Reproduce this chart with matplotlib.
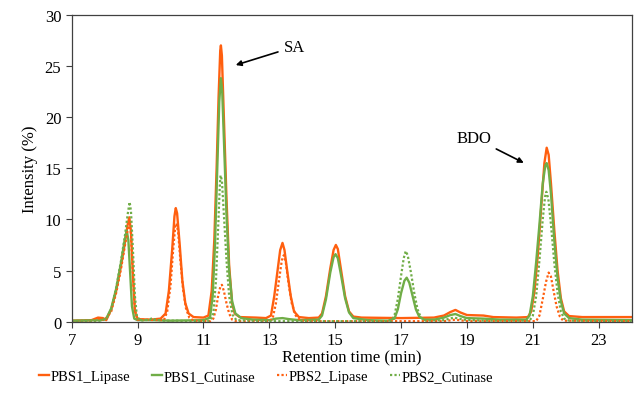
import matplotlib
matplotlib.use("Agg")
import matplotlib.pyplot as plt

plt.rcParams['font.family'] = ['Liberation Serif', 'DejaVu Serif']
plt.rcParams['font.size'] = 12

# PBS1_Lipase (orange, solid)
t_pbs1_lip = [7.0, 7.6, 7.8, 7.95, 8.05, 8.2, 8.35, 8.5, 8.62, 8.7, 8.75, 8.8, 8.86, 8.92, 9.0,
              9.4, 9.7, 9.85, 9.95, 10.05, 10.12, 10.16, 10.2, 10.28, 10.36, 10.45, 10.55, 10.7,
              11.0, 11.15, 11.25, 11.33, 11.4, 11.46, 11.51, 11.53, 11.56, 11.62, 11.7, 11.78, 11.87,
              11.95, 12.1, 12.6, 12.9, 13.05, 13.15, 13.25, 13.33, 13.4, 13.46, 13.55, 13.65, 13.75,
              13.9, 14.2, 14.5, 14.6, 14.72, 14.85, 14.95, 15.02, 15.08, 15.18, 15.3, 15.42, 15.55,
              15.8, 17.0, 18.0, 18.3, 18.5, 18.65, 18.8, 19.0, 19.5, 19.8, 20.5, 20.85, 20.95, 21.05,
              21.15, 21.25, 21.35, 21.42, 21.48, 21.55, 21.65, 21.75, 21.85, 21.95, 22.1, 22.5, 24.0]
i_pbs1_lip = [0.1, 0.15, 0.4, 0.35, 0.15, 1.2, 3.0, 5.5, 7.8, 9.5, 10.2, 8.8, 4.5, 1.0, 0.25,
              0.2, 0.3, 0.8, 3.0, 7.0, 10.3, 11.1, 10.6, 7.5, 4.0, 1.8, 0.8, 0.45,
              0.4, 0.6, 3.0, 8.0, 15.0, 22.0, 26.5, 27.0, 26.0, 20.0, 12.0, 5.5, 1.8,
              0.8, 0.45, 0.4, 0.35, 0.6, 2.5, 5.0, 7.0, 7.7, 7.0, 4.8, 2.5, 1.0,
              0.45, 0.35, 0.4, 0.8, 2.5, 5.2, 7.0, 7.5, 7.1, 5.0, 2.5, 1.0, 0.5,
              0.4, 0.35, 0.4, 0.6, 0.95, 1.15, 0.9, 0.65, 0.6, 0.45, 0.4, 0.45, 1.0, 3.0,
              6.5, 11.0, 15.5, 17.0, 16.3, 13.5, 9.0, 5.0, 2.3, 1.0, 0.55, 0.45, 0.45]

# PBS1_Cutinase (green, solid)
t_pbs1_cut = [7.0, 7.9, 8.05, 8.2, 8.35, 8.5, 8.6, 8.67, 8.72, 8.78, 8.83, 8.9, 9.0, 9.5, 10.0,
              11.0, 11.2, 11.28, 11.35, 11.42, 11.48, 11.53, 11.57, 11.63, 11.7, 11.78, 11.87, 11.97,
              12.15, 12.5, 13.0, 13.2, 13.4, 13.6, 13.9, 14.5, 14.6, 14.72, 14.85, 14.95, 15.01,
              15.08, 15.18, 15.3, 15.42, 15.55, 16.0, 16.6, 16.8, 16.9, 17.0, 17.1, 17.17, 17.25,
              17.35, 17.45, 17.55, 17.7, 18.0, 18.3, 18.5, 18.65, 18.8, 19.0, 19.5, 20.0, 20.8,
              20.9, 21.0, 21.1, 21.2, 21.3, 21.38, 21.42, 21.48, 21.55, 21.65, 21.75, 21.85, 21.95,
              22.1, 22.5, 24.0]
i_pbs1_cut = [0.1, 0.15, 0.3, 1.3, 3.2, 5.8, 7.8, 8.9, 8.0, 4.5, 1.5, 0.3, 0.15, 0.15, 0.1,
              0.15, 0.4, 2.5, 7.5, 15.0, 21.5, 23.8, 22.5, 17.0, 10.5, 5.0, 2.0, 0.8,
              0.35, 0.2, 0.15, 0.3, 0.35, 0.25, 0.15, 0.2, 0.6, 2.2, 4.8, 6.3, 6.6,
              6.2, 4.5, 2.3, 0.9, 0.35, 0.15, 0.1, 0.3, 1.2, 2.8, 4.0, 4.3, 3.8,
              2.5, 1.2, 0.5, 0.2, 0.2, 0.4, 0.65, 0.75, 0.55, 0.35, 0.3, 0.2, 0.2,
              0.6, 2.5, 5.8, 9.5, 13.5, 15.3, 15.5, 14.8, 12.5, 8.0, 4.3, 2.0, 0.8,
              0.35, 0.2, 0.15]

# PBS2_Lipase (orange, dotted)
t_pbs2_lip = [7.0, 7.7, 7.85, 8.0, 8.2, 8.35, 8.5, 8.62, 8.7, 8.76, 8.8, 8.86, 8.92, 9.0,
              9.8, 9.9, 10.0, 10.08, 10.14, 10.18, 10.23, 10.3, 10.38, 10.47, 10.57, 10.7,
              11.2, 11.3, 11.38, 11.45, 11.52, 11.56, 11.62, 11.7, 11.78, 11.87, 12.0,
              13.0, 13.1, 13.2, 13.3, 13.38, 13.44, 13.5, 13.58, 13.68, 13.8, 13.95,
              14.5, 18.3, 18.65, 19.0, 21.1, 21.2, 21.3, 21.4, 21.48, 21.55, 21.63, 21.72,
              21.82, 21.92, 24.0]
i_pbs2_lip = [0.05, 0.1, 0.3, 0.15, 1.0, 2.8, 5.2, 7.5, 9.0, 9.6, 8.5, 4.5, 1.2, 0.2,
              0.15, 1.0, 3.5, 7.0, 9.2, 9.6, 8.8, 6.0, 3.2, 1.3, 0.4, 0.1,
              0.05, 0.3, 1.2, 2.6, 3.5, 3.6, 3.0, 1.8, 0.8, 0.2, 0.05,
              0.05, 0.3, 1.8, 4.2, 6.0, 6.5, 5.8, 3.8, 1.8, 0.6, 0.1,
              0.05, 0.05, 0.2, 0.05, 0.05, 0.6, 2.2, 3.9, 4.8, 4.4, 3.0, 1.5,
              0.5, 0.1, 0.05]

# PBS2_Cutinase (green, dotted)
t_pbs2_cut = [7.0, 7.9, 8.05, 8.2, 8.35, 8.5, 8.62, 8.7, 8.76, 8.8, 8.86, 8.92, 8.98, 9.1,
              9.35, 9.45, 9.55, 9.8, 10.2, 10.5, 11.2, 11.3, 11.38, 11.45, 11.5, 11.52, 11.56,
              11.62, 11.7, 11.78, 11.88, 12.0, 13.0, 16.7, 16.8, 16.9, 17.0, 17.08, 17.14, 17.2,
              17.3, 17.4, 17.5, 17.6, 17.75, 18.3, 18.6, 18.9, 19.5, 20.9, 21.0, 21.1, 21.2,
              21.3, 21.37, 21.41, 21.47, 21.55, 21.65, 21.75, 21.85, 21.95, 22.1, 24.0]
i_pbs2_cut = [0.05, 0.1, 0.3, 1.2, 3.3, 6.0, 8.5, 10.5, 11.7, 10.8, 7.0, 2.5, 0.5, 0.1,
              0.2, 0.35, 0.2, 0.1, 0.1, 0.05, 0.1, 0.8, 4.0, 9.5, 13.5, 14.3, 13.8,
              10.5, 6.0, 2.5, 0.7, 0.15, 0.05, 0.05, 0.6, 2.2, 4.5, 6.2, 6.9, 6.5,
              4.8, 2.8, 1.2, 0.4, 0.1, 0.15, 0.4, 0.2, 0.1, 0.1, 0.6, 2.5, 6.0,
              10.0, 12.2, 12.7, 12.0, 9.5, 5.8, 2.8, 1.0, 0.3, 0.1, 0.05]

x_ticks = [7, 9, 11, 13, 15, 17, 19, 21, 23]
y_ticks = [0, 5, 10, 15, 20, 25, 30]

orange = '#FF5F0F'
green = '#70AD47'

fig = plt.figure(figsize=(6.36, 4.06), dpi=100)
ax = fig.add_axes([0.1127, 0.2052, 0.8805, 0.7561])

ax.plot(t_pbs1_lip, i_pbs1_lip, color=orange, lw=1.7, label='PBS1_Lipase')
ax.plot(t_pbs1_cut, i_pbs1_cut, color=green, lw=1.7, label='PBS1_Cutinase')
ax.plot(t_pbs2_lip, i_pbs2_lip, color=orange, lw=1.6, ls=(0, (1, 1)), label='PBS2_Lipase')
ax.plot(t_pbs2_cut, i_pbs2_cut, color=green, lw=1.6, ls=(0, (1, 1)), label='PBS2_Cutinase')

ax.set_xlim(7, 24)
ax.set_ylim(0, 30)
ax.set_xticks(x_ticks)
ax.set_yticks(y_ticks)
ax.tick_params(direction='out', length=4, width=0.8, colors='#404040', labelcolor='black')
for sp in ax.spines.values():
    sp.set_color('#404040')
    sp.set_linewidth(0.9)

ax.set_xlabel('Retention time (min)', labelpad=1)
ax.set_ylabel('Intensity (%)', labelpad=5)

arrow = dict(arrowstyle='-|>', color='black', lw=1.2, mutation_scale=8)
ax.annotate('SA', xy=(11.9, 25.0), xytext=(13.75, 26.85), ha='center', va='center',
            arrowprops=arrow)
ax.annotate('BDO', xy=(20.8, 15.4), xytext=(19.2, 18.0), ha='center', va='center',
            arrowprops=arrow)

fig.legend(loc='center', bbox_to_anchor=(0.418, 0.071), ncol=4, frameon=False,
           handlelength=0.7, handletextpad=0.1, columnspacing=1.5, fontsize=10.5)

fig.savefig('out.png', dpi=100)
